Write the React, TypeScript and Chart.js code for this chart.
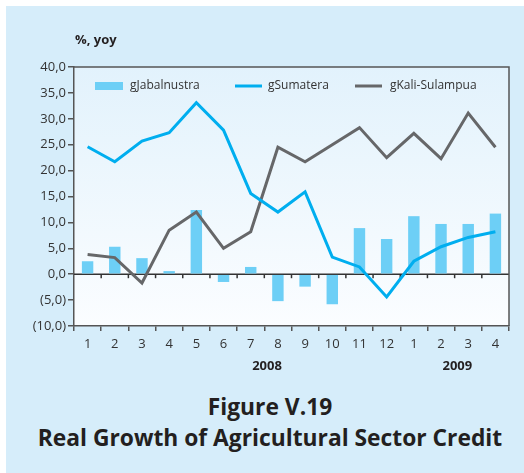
import React, { useEffect, useRef } from 'react';
import { Chart, registerables } from 'chart.js';

Chart.register(...registerables);

const months = ['1', '2', '3', '4', '5', '6', '7', '8', '9', '10', '11', '12', '1', '2', '3', '4'];
const yearLabels = ['2008', '2009'];
const gJabalnustra = [2.5, 5.3, 3.1, 0.6, 12.4, -1.5, 1.4, -5.2, -2.4, -5.8, 8.9, 6.8, 11.2, 9.7, 9.7, 11.7];
const gSumatera = [24.6, 21.7, 25.7, 27.3, 33.1, 27.8, 15.6, 12.0, 15.9, 3.3, 1.4, -4.4, 2.5, 5.3, 7.1, 8.2];
const gKaliSulampua = [3.8, 3.2, -1.7, 8.5, 12.0, 5.0, 8.2, 24.5, 21.7, 25.0, 28.3, 22.5, 27.2, 22.3, 31.1, 24.5];
const seriesNames = ['gJabalnustra', 'gSumatera', 'gKali-Sulampua'];

const FONT = "'Open Sans', 'Noto Sans', sans-serif";
const TEXT = '#333333';
const AXIS = '#555555';
const BAR = '#6dcff6';
const BLUE = '#00aeef';
const GRAY = '#666769';

const customPlugin = {
  id: 'customDecor',
  beforeDraw(chart: any) {
    const { ctx, chartArea } = chart;
    const g = ctx.createLinearGradient(0, chartArea.top, 0, chartArea.bottom);
    g.addColorStop(0, '#e2f2fc');
    g.addColorStop(1, '#fbfdff');
    ctx.save();
    ctx.fillStyle = g;
    ctx.fillRect(chartArea.left, chartArea.top, chartArea.right - chartArea.left, chartArea.bottom - chartArea.top);
    ctx.restore();
  },
  beforeDatasetsDraw(chart: any) {
    const { ctx, chartArea, scales } = chart;
    const y0 = scales.y.getPixelForValue(0);
    const step = (chartArea.right - chartArea.left) / months.length;
    ctx.save();
    ctx.strokeStyle = '#333333';
    ctx.lineWidth = 1.5;
    ctx.beginPath();
    ctx.moveTo(chartArea.left, y0);
    ctx.lineTo(chartArea.right, y0);
    ctx.stroke();
    for (let i = 1; i < months.length; i++) {
      const x = chartArea.left + i * step;
      ctx.beginPath();
      ctx.moveTo(x, y0);
      ctx.lineTo(x, y0 + 4);
      ctx.stroke();
    }
    ctx.restore();
  },
  afterDraw(chart: any) {
    const { ctx, chartArea, scales } = chart;
    ctx.save();
    ctx.strokeStyle = AXIS;
    ctx.lineWidth = 1.5;
    ctx.beginPath();
    ctx.moveTo(chartArea.left, chartArea.top);
    ctx.lineTo(chartArea.right, chartArea.top);
    ctx.lineTo(chartArea.right, chartArea.bottom);
    ctx.stroke();

    ctx.fillStyle = '#231f20';
    ctx.font = `bold 13px ${FONT}`;
    ctx.textBaseline = 'middle';
    ctx.textAlign = 'left';
    ctx.fillText('%, yoy', chartArea.left + 1, chartArea.top - 27);

    const xs = scales.x;
    const yYear = chartArea.bottom + 40;
    ctx.textAlign = 'center';
    const p2008 = xs.getPixelForValue(6) * 0.4 + xs.getPixelForValue(7) * 0.6;
    const p2009 = xs.getPixelForValue(13) * 0.4 + xs.getPixelForValue(14) * 0.6;
    ctx.fillText(yearLabels[0], p2008, yYear);
    ctx.fillText(yearLabels[1], p2009, yYear);

    const ly = chartArea.top + 19;
    const lx = chartArea.left;
    ctx.font = `12px ${FONT}`;
    ctx.textAlign = 'left';
    ctx.fillStyle = BAR;
    ctx.fillRect(lx + 21, ly - 4, 28, 8);
    ctx.fillStyle = TEXT;
    ctx.fillText(seriesNames[0], lx + 56, ly);

    ctx.strokeStyle = BLUE;
    ctx.lineWidth = 3;
    ctx.beginPath();
    ctx.moveTo(lx + 161, ly);
    ctx.lineTo(lx + 188, ly);
    ctx.stroke();
    ctx.fillText(seriesNames[1], lx + 194, ly);

    ctx.strokeStyle = GRAY;
    ctx.beginPath();
    ctx.moveTo(lx + 281, ly);
    ctx.lineTo(lx + 308, ly);
    ctx.stroke();
    ctx.fillText(seriesNames[2], lx + 316, ly);
    ctx.restore();
  },
};

function ChartView() {
  const ref = useRef<HTMLCanvasElement | null>(null);
  useEffect(() => {
    if (!ref.current) return;
    const chart = new Chart(ref.current, {
      type: 'bar',
      data: {
        labels: months,
        datasets: [
          {
            type: 'line',
            label: seriesNames[1],
            data: gSumatera,
            borderColor: BLUE,
            borderWidth: 3,
            pointRadius: 0,
            tension: 0,
            order: 1,
          } as any,
          {
            type: 'line',
            label: seriesNames[2],
            data: gKaliSulampua,
            borderColor: GRAY,
            borderWidth: 3,
            pointRadius: 0,
            tension: 0,
            order: 2,
          } as any,
          {
            type: 'bar',
            label: seriesNames[0],
            data: gJabalnustra,
            backgroundColor: BAR,
            barPercentage: 0.42,
            categoryPercentage: 1,
            order: 3,
          },
        ],
      },
      options: {
        responsive: false,
        animation: false,
        devicePixelRatio: 1,
        layout: { padding: { left: 0, right: 15, top: 67, bottom: 0 } },
        plugins: {
          legend: { display: false },
          tooltip: { enabled: false },
          title: { display: false },
        },
        scales: {
          x: {
            type: 'category',
            offset: true,
            grid: {
              offset: true,
              drawOnChartArea: false,
              drawTicks: true,
              tickLength: 5,
              color: AXIS,
              lineWidth: 1.5,
            },
            border: { display: true, color: AXIS, width: 1.5 },
            ticks: {
              color: TEXT,
              font: { family: FONT, size: 13 },
              padding: 5,
              maxRotation: 0,
              autoSkip: false,
            },
            afterFit: (s: any) => { s.height = 64; },
          },
          y: {
            min: -10,
            max: 40,
            grid: {
              drawOnChartArea: false,
              drawTicks: true,
              tickLength: 6,
              color: AXIS,
              lineWidth: 1.5,
            },
            border: { display: true, color: AXIS, width: 1.5 },
            ticks: {
              stepSize: 5,
              color: TEXT,
              font: { family: FONT, size: 13 },
              padding: 2,
              callback: (v: any) => {
                const n = Number(v);
                const s = Math.abs(n).toFixed(1).replace('.', ',');
                return n < 0 ? `(${s})` : s;
              },
            },
            afterFit: (s: any) => { s.width = 74; },
          },
        },
      },
      plugins: [customPlugin],
    });
    return () => chart.destroy();
  }, []);
  return <canvas ref={ref} width={524} height={390} style={{ display: 'block', width: 524, height: 390 }} />;
}

export default function App() {
  return (
    <div style={{ position: 'absolute', left: 0, top: 0, width: 524, height: 473, background: '#ffffff', overflow: 'hidden' }}>
      <div style={{ position: 'absolute', left: 6, top: 6, right: 0, bottom: 0, background: '#d6edfa' }} />
      <div style={{ position: 'absolute', left: 0, top: 0, width: 524, height: 390 }}>
        <ChartView />
      </div>
      <div
        style={{
          position: 'absolute',
          left: 0,
          top: 391,
          width: 540,
          textAlign: 'center',
          fontFamily: FONT,
          fontWeight: 'bold',
          fontSize: 22.8,
          lineHeight: '31px',
          color: '#231f20',
          whiteSpace: 'nowrap',
        }}
      >
        <div>Figure V.19</div>
        <div>Real Growth of Agricultural Sector Credit</div>
      </div>
    </div>
  );
}
